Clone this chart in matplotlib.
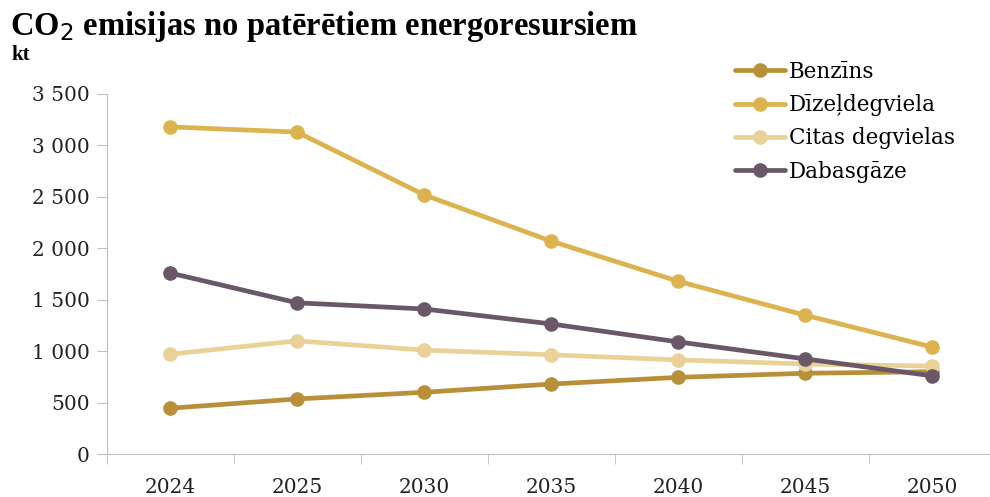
import matplotlib.pyplot as plt
from matplotlib.ticker import FuncFormatter

years = ['2024', '2025', '2030', '2035', '2040', '2045', '2050']
benzins = [445, 535, 600, 680, 745, 785, 800]
dizeldegviela = [3180, 3130, 2520, 2070, 1680, 1350, 1040]
citas = [970, 1100, 1010, 965, 915, 875, 855]
dabasgaze = [1760, 1470, 1410, 1265, 1090, 925, 760]

series = [
    ('Benzīns', benzins, '#B8903A'),
    ('Dīzeļdegviela', dizeldegviela, '#DDB34F'),
    ('Citas degvielas', citas, '#E9D197'),
    ('Dabasgāze', dabasgaze, '#6A5869'),
]

plt.rcParams['font.family'] = ['DejaVu Serif']

fig = plt.figure(figsize=(9.9, 4.97), dpi=100)
ax = fig.add_axes([106.5 / 990, 43 / 497, 889 / 990, 360 / 497])

x = list(range(len(years)))
for name, vals, col in series:
    ax.plot(x, vals, color=col, lw=3.4, marker='o', ms=9.5, label=name,
            solid_capstyle='round')

ax.set_xlim(-0.5, len(years) - 0.5)
ax.set_ylim(0, 3500)
ax.set_yticks(range(0, 3501, 500))
ax.yaxis.set_major_formatter(FuncFormatter(lambda v, p: f'{int(v):,}'.replace(',', ' ')))
ax.set_xticks(x)
ax.set_xticklabels(years)
ax.set_xticks([i - 0.5 for i in range(len(years) + 1)], minor=True)

for s in ['top', 'right']:
    ax.spines[s].set_visible(False)
for s in ['left', 'bottom']:
    ax.spines[s].set_color('#BFBFBF')
ax.tick_params(axis='y', colors='#BFBFBF', labelcolor='#222222', labelsize=14.5, length=7, pad=5)
ax.tick_params(axis='x', which='major', length=0, labelcolor='#222222', labelsize=14.5, pad=17)
ax.tick_params(axis='x', which='minor', length=7, color='#BFBFBF')

title_font = ['Liberation Serif', 'DejaVu Serif']
fig.text(10 / 990, 1 - 26 / 497, 'CO$_2$ emisijas no patērētiem energoresursiem',
         fontsize=23.5, fontweight='bold', va='center', ha='left', family=title_font)
fig.text(11 / 990, 1 - 55 / 497, 'kt', fontsize=15, fontweight='bold', va='center', ha='left',
         family=title_font)

ax.legend(loc='upper left', bbox_to_anchor=(735 / 990, 1 - 61 / 497),
          bbox_transform=fig.transFigure, frameon=False, fontsize=15.5,
          handlelength=2.3, handletextpad=0.2, labelspacing=0.52, borderaxespad=0,
          borderpad=0)

fig.savefig('out.png', dpi=100)
